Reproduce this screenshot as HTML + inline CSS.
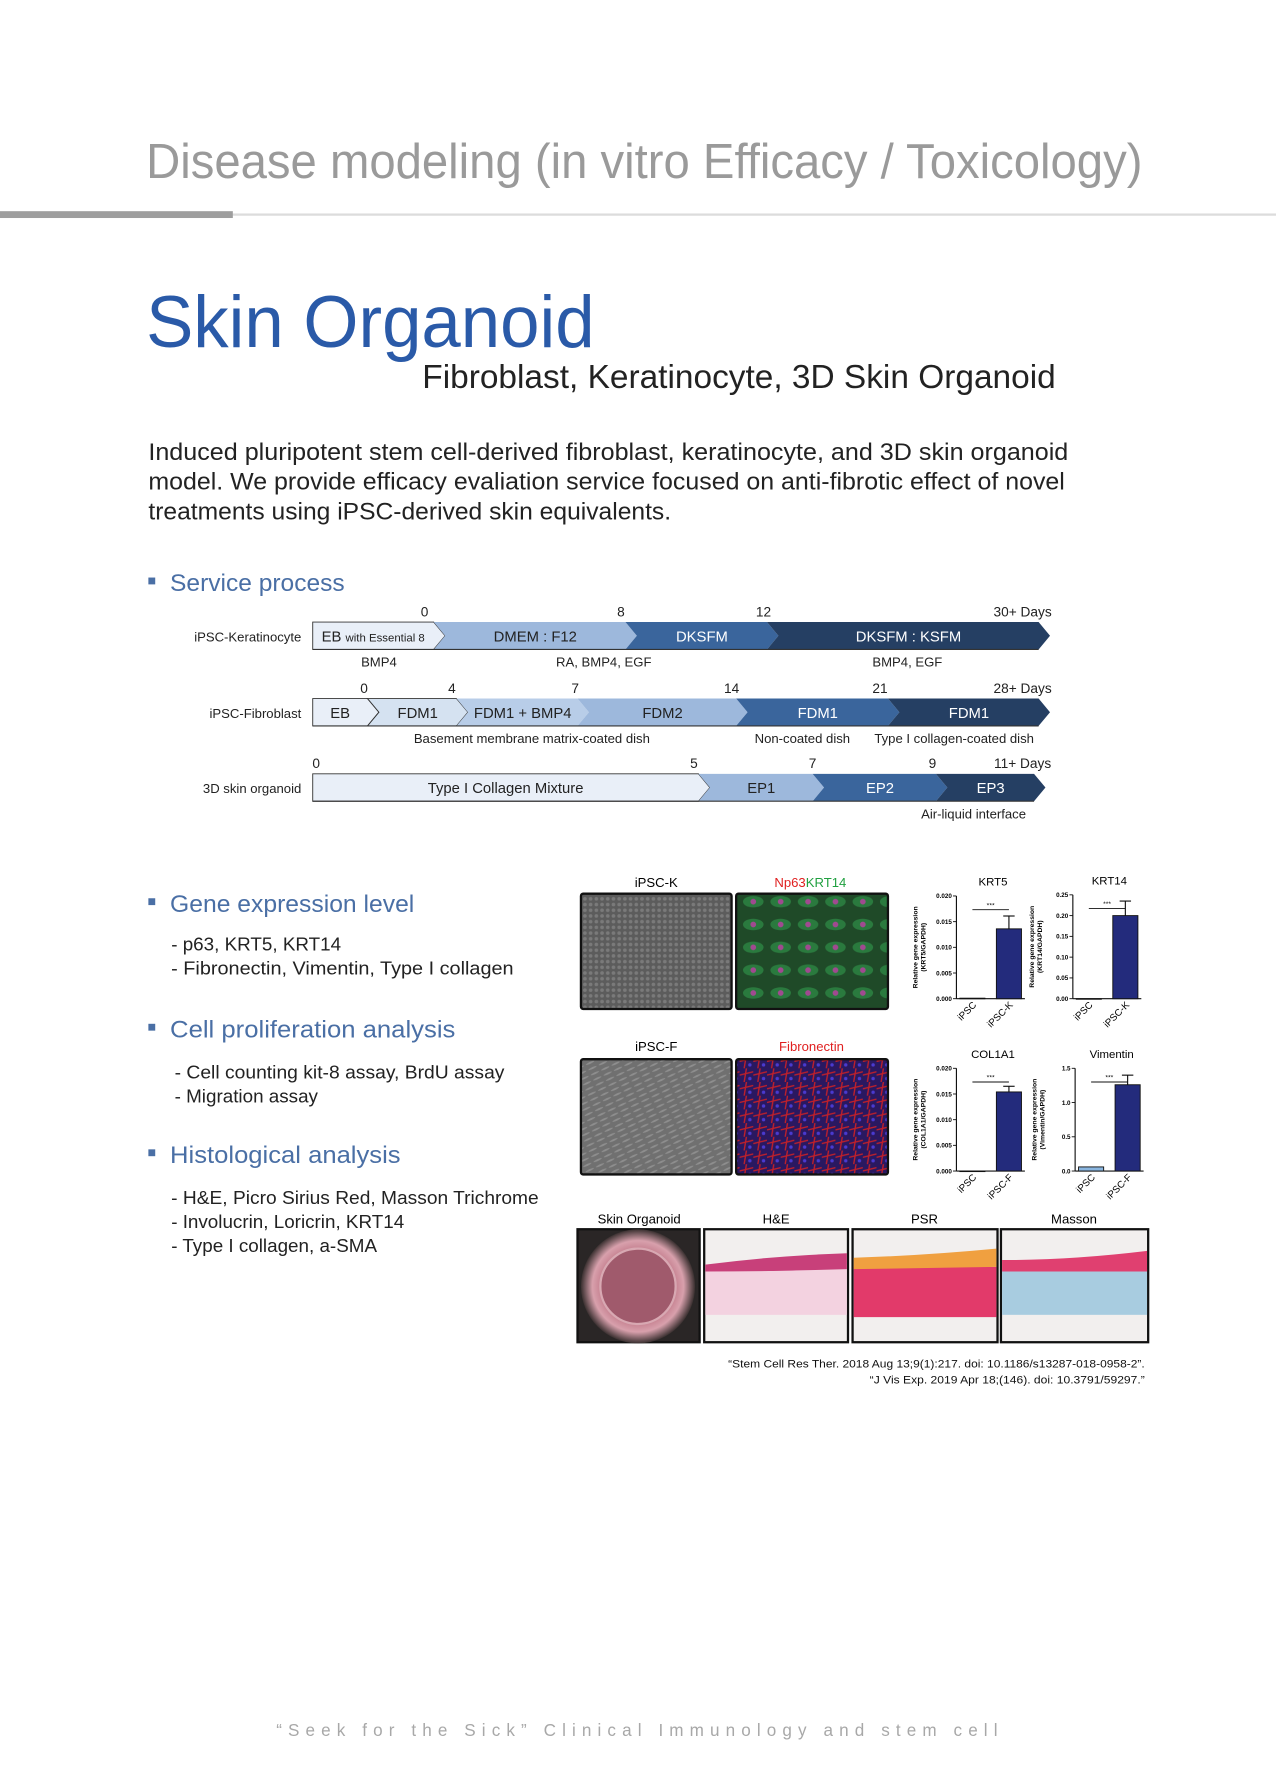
<!DOCTYPE html>
<html><head><meta charset="utf-8"><style>
html,body{margin:0;padding:0;background:#fff;}
svg{display:block;}
text{font-family:"Liberation Sans",sans-serif;}
</style></head><body>
<svg id="page" width="1276" height="1790" viewBox="0 0 1118 1568.3" xmlns="http://www.w3.org/2000/svg">
<rect width="1118" height="1570" fill="#fff"/>
<text x="128" y="156" font-size="43" fill="#9a9a9a" textLength="873" lengthAdjust="spacingAndGlyphs">Disease modeling (in vitro Efficacy / Toxicology)</text>
<rect x="0" y="187" width="1118" height="2" fill="#dcdcdc"/>
<rect x="0" y="185" width="204" height="6" fill="#9e9e9e"/>
<text x="128" y="304" font-size="64" fill="#2a5aa8" textLength="393" lengthAdjust="spacingAndGlyphs">Skin Organoid</text>
<text x="370" y="340" font-size="29" fill="#222" textLength="555" lengthAdjust="spacingAndGlyphs">Fibroblast, Keratinocyte, 3D Skin Organoid</text>
<g font-size="21" fill="#222">
<text x="130" y="403" textLength="806" lengthAdjust="spacingAndGlyphs">Induced pluripotent stem cell-derived fibroblast, keratinocyte, and 3D skin organoid</text>
<text x="130" y="429" textLength="803" lengthAdjust="spacingAndGlyphs">model. We provide efficacy evaliation service focused on anti-fibrotic effect of novel</text>
<text x="130" y="455" textLength="458" lengthAdjust="spacingAndGlyphs">treatments using iPSC-derived skin equivalents.</text>
</g>
<g>
<rect x="130" y="506" width="6" height="6" fill="#4a6fa5"/>
<text x="149" y="518" font-size="21" fill="#4a6fa5" textLength="153" lengthAdjust="spacingAndGlyphs">Service process</text>
</g>
<g id="process" font-size="12.5"></g>

<g>
<rect x="130" y="787" width="6" height="6" fill="#4a6fa5"/>
<text x="149" y="799" font-size="21" fill="#4a6fa5" textLength="214" lengthAdjust="spacingAndGlyphs">Gene expression level</text>
</g>
<g font-size="16.5" fill="#222">
<text x="150" y="833">- p63, KRT5, KRT14</text>
<text x="150" y="854" textLength="300" lengthAdjust="spacingAndGlyphs">- Fibronectin, Vimentin, Type I collagen</text>
</g>
<g>
<rect x="130" y="897" width="6" height="6" fill="#4a6fa5"/>
<text x="149" y="909" font-size="21" fill="#4a6fa5" textLength="250" lengthAdjust="spacingAndGlyphs">Cell proliferation analysis</text>
</g>
<g font-size="16.5" fill="#222">
<text x="153" y="945" textLength="289" lengthAdjust="spacingAndGlyphs">- Cell counting kit-8 assay, BrdU assay</text>
<text x="153" y="966">- Migration assay</text>
</g>
<g>
<rect x="130" y="1007" width="6" height="6" fill="#4a6fa5"/>
<text x="149" y="1019" font-size="21" fill="#4a6fa5" textLength="202" lengthAdjust="spacingAndGlyphs">Histological analysis</text>
</g>
<g font-size="16.5" fill="#222">
<text x="150" y="1055" textLength="322" lengthAdjust="spacingAndGlyphs">- H&amp;E, Picro Sirius Red, Masson Trichrome</text>
<text x="150" y="1076">- Involucrin, Loricrin, KRT14</text>
<text x="150" y="1097">- Type I collagen, a-SMA</text>
</g>

<defs>
<pattern id="cellsK" width="5" height="5" patternUnits="userSpaceOnUse"><rect width="5" height="5" fill="#5c5c5c"/><circle cx="2.5" cy="2.5" r="1.6" fill="#7a7a7a"/></pattern>
<pattern id="cellsF" width="10" height="5" patternUnits="userSpaceOnUse" patternTransform="rotate(-25)"><rect width="10" height="5" fill="#707070"/><ellipse cx="5" cy="2.5" rx="4" ry="0.8" fill="#8e8e8e"/></pattern>
<pattern id="green" width="24" height="20" patternUnits="userSpaceOnUse"><rect width="24" height="20" fill="#1f4a28"/><ellipse cx="12" cy="10" rx="9" ry="5" fill="#2a7a3e"/><circle cx="12" cy="10" r="2.5" fill="#a04a90"/></pattern>
<pattern id="fibro" width="12" height="12" patternUnits="userSpaceOnUse"><rect width="12" height="12" fill="#2a1860"/><path d="M0 6 L12 3 M6 0 L4 12" stroke="#c0202a" stroke-width="1.2"/><circle cx="9" cy="9" r="1.5" fill="#4a3ad0"/></pattern>
<radialGradient id="dish"><stop offset="0" stop-color="#a05a6a"/><stop offset="0.6" stop-color="#c07888"/><stop offset="0.8" stop-color="#d8a0ac"/><stop offset="1" stop-color="#3a3030"/></radialGradient>
</defs>
<g font-size="11.5" text-anchor="middle">
<text x="575" y="777">iPSC-K</text>
<text x="710" y="777"><tspan fill="#e02020">Np63</tspan><tspan fill="#20a040">KRT14</tspan></text>
<rect x="509" y="783" width="132" height="101" fill="url(#cellsK)" stroke="#111" stroke-width="2" rx="2"/>
<rect x="645" y="783" width="133" height="101" fill="url(#green)" stroke="#111" stroke-width="2" rx="2"/>
<text x="575" y="921">iPSC-F</text>
<text x="711" y="921" fill="#e02020">Fibronectin</text>
<rect x="509" y="928" width="132" height="101" fill="url(#cellsF)" stroke="#111" stroke-width="2" rx="2"/>
<rect x="645" y="928" width="133" height="101" fill="url(#fibro)" stroke="#111" stroke-width="2" rx="2"/>
<text x="560" y="1072">Skin Organoid</text>
<text x="680" y="1072">H&amp;E</text>
<text x="810" y="1072">PSR</text>
<text x="941" y="1072">Masson</text>
<g>
<rect x="506" y="1077" width="107" height="99" fill="#2a2626" stroke="#111" stroke-width="2"/>
<circle cx="559" cy="1127" r="50" fill="url(#dish)"/>
<circle cx="559" cy="1127" r="33" fill="#a05a6c" stroke="#d8a8b2" stroke-width="2"/>
</g>
<g>
<rect x="617" y="1077" width="126" height="99" fill="#f2efee" stroke="#111" stroke-width="2"/>
<rect x="618" y="1108" width="124" height="44" fill="#f3d2e0"/>
<path d="M618 1108 Q680 1100 742 1098 L742 1112 Q680 1114 618 1114Z" fill="#c8407a"/>
</g>
<g>
<rect x="747" y="1077" width="127" height="99" fill="#f2efee" stroke="#111" stroke-width="2"/>
<rect x="748" y="1110" width="125" height="44" fill="#e23a6a"/>
<path d="M748 1102 Q810 1100 873 1094 L873 1110 L748 1112Z" fill="#f0a040"/>
</g>
<g>
<rect x="877" y="1077" width="129" height="99" fill="#f2efee" stroke="#111" stroke-width="2"/>
<rect x="878" y="1112" width="127" height="40" fill="#a8cce0"/>
<path d="M878 1104 Q940 1104 1005 1096 L1005 1114 L878 1114Z" fill="#e04070"/>
</g>
</g>

<g id="charts"></g>

<g font-size="10" text-anchor="end" fill="#111">
<text x="1003" y="1198" font-family="Liberation Serif" textLength="365" lengthAdjust="spacingAndGlyphs">“Stem Cell Res Ther. 2018 Aug 13;9(1):217. doi: 10.1186/s13287-018-0958-2”.</text>
<text x="1003" y="1212" font-family="Liberation Serif" textLength="241" lengthAdjust="spacingAndGlyphs">“J Vis Exp. 2019 Apr 18;(146). doi: 10.3791/59297.”</text>
</g>
<text x="242" y="1521" font-size="15" fill="#a8a8a8" letter-spacing="4" textLength="636" lengthAdjust="spacing">“Seek for the Sick” Clinical Immunology and stem cell</text>
</svg>
<script>
const NS='http://www.w3.org/2000/svg';
function mk(tag,attrs,parent,txt){const e=document.createElementNS(NS,tag);for(const k in attrs)e.setAttribute(k,attrs[k]);if(txt!==undefined)e.textContent=txt;parent.appendChild(e);return e;}

// ---- process diagram ----
const rowLabels=['iPSC-Keratinocyte','iPSC-Fibroblast','3D skin organoid'];
const row1Stages=['EB','DMEM : F12','DKSFM','DKSFM : KSFM'];
const row1Days=[0,8,12,30];
const row2Stages=['EB','FDM1','FDM1 + BMP4','FDM2','FDM1','FDM1'];
const row2Days=[0,4,7,14,21,28];
const row3Stages=['Type I Collagen Mixture','EP1','EP2','EP3'];
const row3Days=[0,5,7,9,11];
const proc=document.getElementById('process');
const rows=[
 {y:545,label:rowLabels[0],segs:[[274,380],[380,548],[548,672],[672,910]],names:row1Stages,cols:['#e9eff8','#9db8dc','#3a659c','#253f63'],
  ticks:[[372,'0'],[544,'8'],[669,'12'],[896,'30+ Days']],notes:[[332,'BMP4'],[529,'RA, BMP4, EGF'],[795,'BMP4, EGF']]},
 {y:612,label:rowLabels[1],segs:[[274,322],[322,400],[400,506],[506,645],[645,778],[778,910]],names:row2Stages,cols:['#e9eff8','#d5e2f1','#b8cde8','#9db8dc','#3a659c','#253f63'],
  ticks:[[319,'0'],[396,'4'],[504,'7'],[641,'14'],[771,'21'],[896,'28+ Days']],notes:[[466,'Basement membrane matrix-coated dish'],[703,'Non-coated dish'],[836,'Type I collagen-coated dish']]},
 {y:678,label:rowLabels[2],segs:[[274,612],[612,712],[712,820],[820,906]],names:row3Stages,cols:['#e9eff8','#9db8dc','#3a659c','#253f63'],
  ticks:[[277,'0'],[608,'5'],[712,'7'],[817,'9'],[896,'11+ Days']],notes:[[853,'Air-liquid interface']]}
];
rows.forEach((r,ri)=>{
 const h=24,t=10;
 const lab=mk('text',{x:264,y:r.y+17,'text-anchor':'end','font-size':11.5,fill:'#222'},proc,r.label);
 
 
 r.segs.forEach((s,i)=>{
  const x1=s[0],x2=s[1],y=r.y;
  const left=i===0?`${x1},${y+h/2}`:`${x1+t},${y+h/2}`;
  const p=mk('polygon',{points:`${x1},${y} ${x2},${y} ${x2+t},${y+h/2} ${x2},${y+h} ${x1},${y+h} ${left}`,fill:r.cols[i],stroke:i<2&&r.cols[i]!=='#9db8dc'?'#333':'none','stroke-width':0.8},proc);
  
  
  const light=r.cols[i]==='#e9eff8'||r.cols[i]==='#d5e2f1'||r.cols[i]==='#b8cde8'||r.cols[i]==='#9db8dc';
  const cx=(x1+x2)/2+(i===0?0:5);
  const tx=mk('text',{x:cx,y:y+17,'text-anchor':'middle','font-size':13,fill:light?'#222':'#fff'},proc,r.names[i]);
  if(ri===0&&i===0){tx.textContent='';mk('tspan',{},tx,'EB ');mk('tspan',{'font-size':10},tx,'with Essential 8');tx.setAttribute('x',327);}
  
  
 });
 mk('line',{x1:274,y1:r.y+h,x2:r.segs[r.segs.length-1][1],y2:r.y+h,stroke:'#333','stroke-width':1},proc);
 r.ticks.forEach(tk=>{const e=mk('text',{x:tk[0],y:r.y-5,'text-anchor':'middle','font-size':12,fill:'#222'},proc,tk[1]);
  
  });
 r.notes.forEach(n=>{const e=mk('text',{x:n[0],y:r.y+h+15,'text-anchor':'middle','font-size':11.5,fill:'#222'},proc,n[1]);
  
  });
});

// ---- bar charts ----
const chartTitles=['KRT5','KRT14','COL1A1','Vimentin'];
const chartCats=[['iPSC','iPSC-K'],['iPSC','iPSC-K'],['iPSC','iPSC-F'],['iPSC','iPSC-F']];
const chartValues=[[0.0001,0.0136],[0.0,0.200],[0.0,0.0154],[0.06,1.26]];
const chartErrors=[[0,0.0025],[0,0.035],[0,0.0011],[0,0.14]];
const chartMax=[0.020,0.25,0.020,1.5];
const chartTicks=[['0.000','0.005','0.010','0.015','0.020'],['0.00','0.05','0.10','0.15','0.20','0.25'],['0.000','0.005','0.010','0.015','0.020'],['0.0','0.5','1.0','1.5']];
const chartYLabels=['(KRT5/GAPDH)','(KRT14/GAPDH)','(COL1A1/GAPDH)','(Vimentin/GAPDH)'];
const chartBox=[[838,785,875],[940,784,875],[838,936,1026],[942,936,1026]];
const cg=document.getElementById('charts');
chartTitles.forEach((title,ci)=>{
 const [ax,top,bot]=chartBox[ci];
 const g=mk('g',{},cg);
 
 
 const ys=v=>bot-(v/chartMax[ci])*(bot-top);
 mk('text',{x:ax+32,y:top-9,'text-anchor':'middle','font-size':10},g,title);
 mk('line',{x1:ax,y1:top,x2:ax,y2:bot,stroke:'#111','stroke-width':1},g);
 mk('line',{x1:ax,y1:bot,x2:ax+60,y2:bot,stroke:'#111','stroke-width':1},g);
 chartTicks[ci].forEach(t=>{const y=ys(parseFloat(t));
  mk('line',{x1:ax-3,y1:y,x2:ax,y2:y,stroke:'#111','stroke-width':0.8},g);
  mk('text',{x:ax-4,y:y+2,'text-anchor':'end','font-size':5.5,'font-weight':'bold'},g,t);});
 const yl=mk('text',{transform:`translate(${ax-34},${(top+bot)/2}) rotate(-90)`,'text-anchor':'middle','font-size':6,'font-weight':'bold'},g);
 mk('tspan',{x:0,dy:0},yl,'Relative gene expression');
 mk('tspan',{x:0,dy:7},yl,chartYLabels[ci]);
 chartCats[ci].forEach((c,i)=>{
  const bx=ax+3+i*32,bw=22,v=chartValues[ci][i],e=chartErrors[ci][i];
  const y=ys(v);
  const b=mk('rect',{x:bx,y:y,width:bw,height:Math.max(bot-y,0.5),fill:i===0?'#8ab6e0':'#232b7c',stroke:'#111','stroke-width':0.8},g);
  
  
  if(e>0){const ye=ys(v+e);
   mk('line',{x1:bx+bw/2,y1:y,x2:bx+bw/2,y2:ye,stroke:'#111','stroke-width':1},g);
   mk('line',{x1:bx+bw/2-5,y1:ye,x2:bx+bw/2+5,y2:ye,stroke:'#111','stroke-width':1},g);}
  mk('text',{transform:`translate(${bx+bw/2+4},${bot+6}) rotate(-45)`,'text-anchor':'end','font-size':8.5},g,c);
 });
 mk('line',{x1:ax+14,y1:top+12,x2:ax+46,y2:top+12,stroke:'#111','stroke-width':0.8},g);
 mk('text',{x:ax+30,y:top+10,'text-anchor':'middle','font-size':6},g,'***');
});
</script>
</body></html>
